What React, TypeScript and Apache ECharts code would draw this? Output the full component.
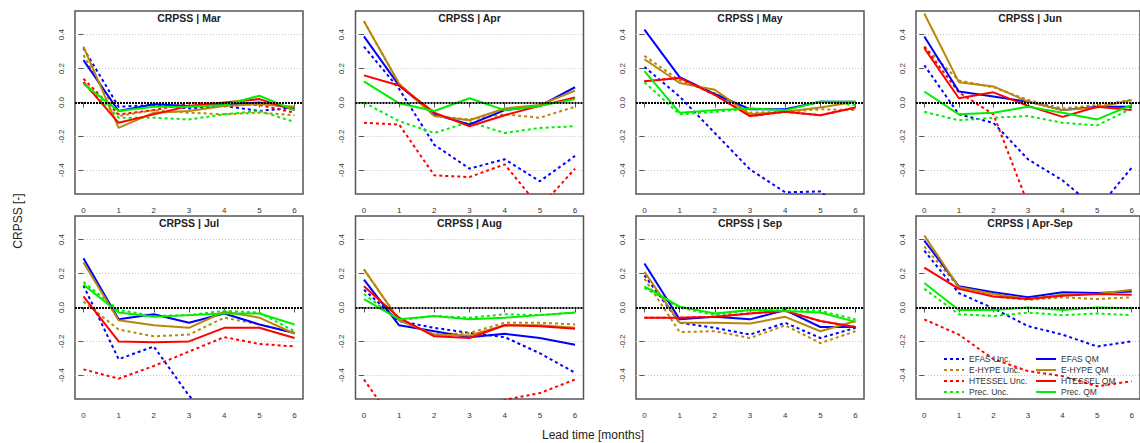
import React, { useEffect, useRef } from "react";
import * as echarts from "echarts";

// ---------- data ----------
const leadTimes = [0, 1, 2, 3, 4, 5, 6];
const panels = ["Mar", "Apr", "May", "Jun", "Jul", "Aug", "Sep", "Apr-Sep"];
const yTicks = [-0.4, -0.2, 0, 0.2, 0.4];

const seriesNames = [
  "EFAS Unc.", "E-HYPE Unc.", "HTESSEL Unc.", "Prec. Unc.",
  "EFAS QM", "E-HYPE QM", "HTESSEL QM", "Prec. QM",
];

// each row: one panel (Mar, Apr, May, Jun, Jul, Aug, Sep, Apr-Sep), values at lead 0..6
const efasUnc = [
  [0.32, -0.025, -0.015, -0.035, -0.02, -0.05, -0.03],
  [0.33, 0.08, -0.25, -0.39, -0.335, -0.465, -0.315],
  [0.21, 0.035, -0.18, -0.395, -0.53, -0.525, -0.7],
  [0.22, -0.07, -0.12, -0.335, -0.46, -0.63, -0.385],
  [0.13, -0.305, -0.23, -0.52, -0.75, -0.85, -0.8],
  [0.105, -0.08, -0.12, -0.15, -0.175, -0.27, -0.385],
  [0.19, -0.09, -0.12, -0.16, -0.09, -0.18, -0.12],
  [0.335, 0.085, -0.005, -0.11, -0.16, -0.23, -0.2],
];
const ehypeUnc = [
  [0.28, -0.08, -0.045, -0.06, -0.07, -0.06, -0.075],
  [0.48, 0.11, -0.08, -0.1, -0.07, -0.09, -0.025],
  [0.275, 0.13, 0.055, -0.06, -0.055, -0.04, -0.045],
  [0.33, 0.13, 0.09, 0.015, -0.035, -0.015, 0.015],
  [0.035, -0.13, -0.17, -0.16, -0.06, -0.1, -0.15],
  [0.225, -0.075, -0.16, -0.15, -0.09, -0.09, -0.1],
  [0.17, -0.145, -0.14, -0.18, -0.105, -0.21, -0.14],
  [0.36, 0.12, 0.065, 0.045, 0.06, 0.05, 0.06],
];
const htesselUnc = [
  [0.14, -0.07, -0.045, -0.005, -0.005, -0.015, -0.06],
  [-0.12, -0.13, -0.43, -0.44, -0.365, -0.62, -0.39],
  [0.125, 0.145, 0.045, -0.08, -0.055, -0.075, -0.03],
  [0.33, 0.06, -0.07, -0.6, -0.8, -0.9, -0.85],
  [-0.365, -0.42, -0.345, -0.26, -0.175, -0.215, -0.23],
  [-0.425, -0.72, -0.8, -0.7, -0.545, -0.505, -0.425],
  [-0.06, -0.06, -0.055, -0.035, -0.02, -0.08, -0.115],
  [-0.07, -0.16, -0.305, -0.375, -0.405, -0.465, -0.435],
];
const precUnc = [
  [0.12, -0.09, -0.09, -0.1, -0.07, -0.05, -0.115],
  [0.0, -0.11, -0.18, -0.115, -0.18, -0.15, -0.14],
  [0.12, -0.07, -0.055, -0.035, -0.045, 0.005, -0.015],
  [-0.055, -0.105, -0.09, -0.08, -0.12, -0.135, -0.035],
  [0.15, -0.015, -0.05, -0.045, -0.02, -0.03, -0.14],
  [0.08, -0.075, -0.05, -0.06, -0.04, -0.045, -0.03],
  [0.115, 0.0, -0.045, -0.015, -0.005, -0.02, -0.07],
  [0.11, -0.04, -0.05, -0.03, -0.045, -0.035, -0.045],
];
const efasQM = [
  [0.25, -0.05, -0.01, -0.02, -0.01, 0.0, -0.035],
  [0.39, 0.1, -0.07, -0.13, -0.045, -0.02, 0.09],
  [0.43, 0.15, 0.05, -0.04, -0.04, 0.005, 0.005],
  [0.39, 0.065, 0.035, 0.005, -0.045, -0.025, -0.025],
  [0.29, -0.07, -0.04, -0.09, -0.035, -0.1, -0.15],
  [0.165, -0.105, -0.14, -0.175, -0.155, -0.18, -0.22],
  [0.26, -0.07, -0.055, -0.07, -0.015, -0.115, -0.115],
  [0.395, 0.125, 0.09, 0.06, 0.09, 0.085, 0.095],
];
const ehypeQM = [
  [0.33, -0.15, -0.06, -0.05, -0.02, -0.01, -0.025],
  [0.48, 0.11, -0.08, -0.105, -0.035, -0.015, 0.07],
  [0.255, 0.115, 0.075, -0.07, -0.055, -0.03, 0.005],
  [0.525, 0.12, 0.095, 0.005, -0.045, -0.03, 0.015],
  [0.265, -0.075, -0.105, -0.12, -0.025, -0.06, -0.155],
  [0.225, -0.075, -0.16, -0.165, -0.105, -0.105, -0.12],
  [0.21, -0.09, -0.09, -0.095, -0.055, -0.14, -0.08],
  [0.425, 0.12, 0.08, 0.05, 0.075, 0.08, 0.105],
];
const htesselQM = [
  [0.12, -0.12, -0.07, -0.02, 0.0, 0.02, -0.045],
  [0.16, 0.1, -0.06, -0.14, -0.075, -0.02, 0.03],
  [0.125, 0.145, 0.045, -0.08, -0.055, -0.075, -0.03],
  [0.32, 0.025, 0.06, -0.02, -0.085, -0.025, -0.045],
  [0.065, -0.2, -0.205, -0.2, -0.12, -0.12, -0.18],
  [0.125, -0.06, -0.17, -0.18, -0.105, -0.11, -0.125],
  [-0.06, -0.06, -0.055, -0.035, -0.02, -0.08, -0.115],
  [0.235, 0.11, 0.065, 0.05, 0.07, 0.08, 0.075],
];
const precQM = [
  [0.11, -0.05, -0.025, -0.025, -0.015, 0.04, -0.045],
  [0.125, -0.005, -0.05, 0.025, -0.045, -0.02, 0.02],
  [0.185, -0.06, -0.045, -0.035, -0.045, 0.005, 0.005],
  [0.065, -0.07, -0.06, -0.025, -0.06, -0.1, -0.015],
  [0.135, -0.03, -0.055, -0.045, -0.035, -0.035, -0.1],
  [0.05, -0.07, -0.05, -0.07, -0.06, -0.045, -0.03],
  [0.125, 0.005, -0.035, -0.015, -0.02, -0.03, -0.085],
  [0.145, -0.015, -0.015, 0.0, -0.015, 0.0, -0.005],
];

const seriesValues = [efasUnc, ehypeUnc, htesselUnc, precUnc, efasQM, ehypeQM, htesselQM, precQM];
const seriesColors = ["#0000FF", "#B8860B", "#FF0000", "#00EE00", "#0000FF", "#B8860B", "#FF0000", "#00EE00"];
const seriesDashed = [true, true, true, true, false, false, false, false];

// ---------- layout ----------
const FONT = "'Liberation Sans', Arial, Helvetica, sans-serif";
const colLeft = [75, 355.5, 636, 916];
const rowTop = [11, 216];
const PW = 228;
const PH = 183;

export default function App() {
  const ref = useRef<HTMLDivElement>(null);

  useEffect(() => {
    if (!ref.current) return;
    const chart = echarts.init(ref.current, undefined, { renderer: "svg" });

    const grids: any[] = [];
    const xAxes: any[] = [];
    const yAxes: any[] = [];
    const series: any[] = [];
    const graphics: any[] = [];

    panels.forEach((p, i) => {
      const col = i % 4;
      const row = Math.floor(i / 4);
      grids.push({
        left: colLeft[col],
        top: rowTop[row],
        width: PW,
        height: PH,
        show: true,
        borderColor: "#555",
        borderWidth: 1.5,
        backgroundColor: "transparent",
        containLabel: false,
      });
      xAxes.push({
        type: "value",
        gridIndex: i,
        min: -0.24,
        max: 6.24,
        axisLine: { show: false },
        axisTick: { show: true, customValues: leadTimes, length: 5, lineStyle: { color: "#555", width: 1 } },
        axisLabel: { show: true, customValues: leadTimes, fontSize: 8, color: "#333", margin: 12, fontFamily: FONT },
        splitLine: { show: false },
      });
      yAxes.push({
        type: "value",
        gridIndex: i,
        min: -0.54,
        max: 0.54,
        axisLine: { show: false },
        axisTick: { show: true, customValues: yTicks, length: 5, lineStyle: { color: "#555", width: 1 } },
        axisLabel: {
          show: true,
          customValues: yTicks,
          rotate: 90,
          fontSize: 8,
          color: "#333",
          margin: 10,
          fontFamily: FONT,
          formatter: (v: number) => v.toFixed(1),
        },
        splitLine: { show: true, lineStyle: { color: "#c4c4c4", type: [1, 2], width: 1 } },
      });

      seriesNames.forEach((name, s) => {
        const vals = seriesValues[s][i];
        const ser: any = {
          type: "line",
          name,
          xAxisIndex: i,
          yAxisIndex: i,
          data: leadTimes.map((x, k) => [x, vals[k]]),
          symbol: "none",
          silent: true,
          clip: true,
          lineStyle: {
            color: seriesColors[s],
            width: 2,
            type: seriesDashed[s] ? [3, 3] : "solid",
          },
          itemStyle: { color: seriesColors[s] },
        };
        if (s === seriesNames.length - 1) {
          ser.markLine = {
            silent: true,
            symbol: ["none", "none"],
            label: { show: false },
            lineStyle: { color: "#000", width: 2.2, type: [2, 1] },
            data: [{ yAxis: 0 }],
          };
        }
        series.push(ser);
      });

      graphics.push({
        type: "text",
        x: colLeft[col] + PW / 2,
        y: rowTop[row] + 6.5,
        style: {
          text: "CRPSS | " + p,
          align: "center",
          verticalAlign: "middle",
          font: `bold 10.5px ${FONT}`,
          fill: "#222",
        },
      });
    });

    graphics.push({
      type: "text",
      x: 17.5,
      y: 221,
      rotation: Math.PI / 2,
      style: {
        text: "CRPSS [-]",
        align: "center",
        verticalAlign: "middle",
        font: `12px ${FONT}`,
        fill: "#222",
      },
    });
    graphics.push({
      type: "text",
      x: 593,
      y: 435,
      style: {
        text: "Lead time [months]",
        align: "center",
        verticalAlign: "middle",
        font: `12px ${FONT}`,
        fill: "#222",
      },
    });

    const legendCommon = {
      orient: "vertical",
      top: 354.5,
      itemWidth: 20,
      itemHeight: 8.5,
      itemGap: 2,
      padding: 0,
      selectedMode: false,
      itemStyle: { opacity: 0, borderWidth: 0 },
      textStyle: { fontSize: 8.5, color: "#333", fontFamily: FONT },
    };

    chart.setOption({
      animation: false,
      backgroundColor: "#fff",
      grid: grids,
      xAxis: xAxes,
      yAxis: yAxes,
      series,
      legend: [
        { ...legendCommon, left: 943, data: seriesNames.slice(0, 4) },
        { ...legendCommon, left: 1035, data: seriesNames.slice(4) },
      ],
      graphic: graphics,
    });

    return () => chart.dispose();
  }, []);

  return (
    <div
      ref={ref}
      style={{ position: "fixed", left: 0, top: 0, width: 1140, height: 443, background: "#fff" }}
    />
  );
}
